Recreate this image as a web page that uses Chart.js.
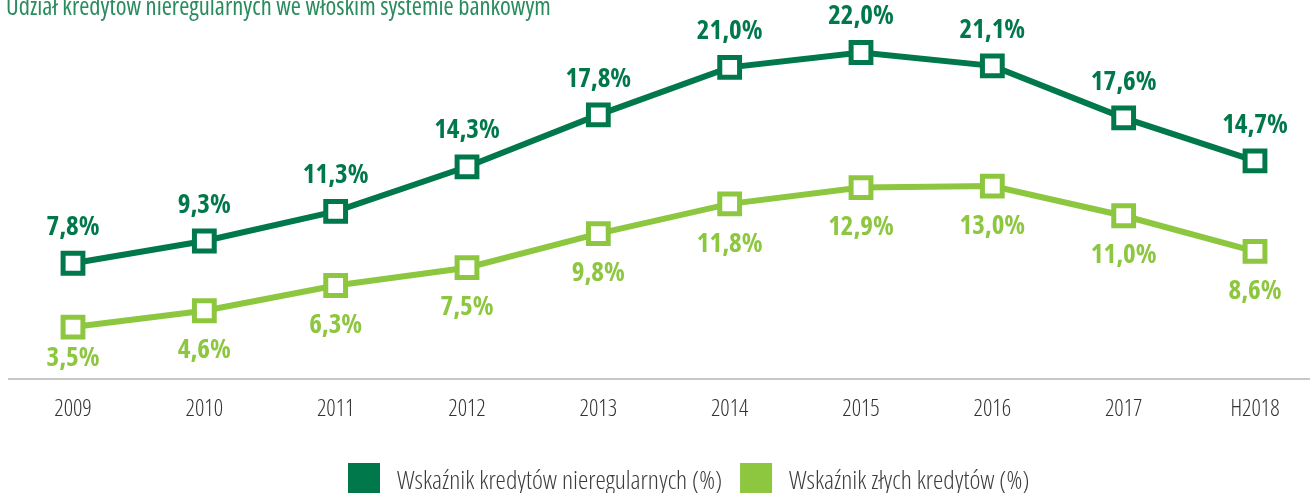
<!DOCTYPE html>
<html><head><meta charset="utf-8">
<script src="https://cdn.jsdelivr.net/npm/chart.js@4/dist/chart.umd.min.js"></script>
<style>html,body{margin:0;padding:0;background:#fff;}#wrap{width:1310px;height:493px;position:relative;}</style>
</head><body><div id="wrap"><canvas id="c" width="1310" height="493"></canvas></div>
<script>
const categories = ['2009','2010','2011','2012','2013','2014','2015','2016','2017','H2018'];
const nplRatio = [7.8, 9.3, 11.3, 14.3, 17.8, 21.0, 22.0, 21.1, 17.6, 14.7];
const badLoanRatio = [3.5, 4.6, 6.3, 7.5, 9.8, 11.8, 12.9, 13.0, 11.0, 8.6];
const seriesNames = ['Wskaźnik kredytów nieregularnych (%)', 'Wskaźnik złych kredytów (%)'];
const titleText = 'Udział kredytów nieregularnych we włoskim systemie bankowym';

const DARK = '#00784b', LIGHT = '#8dc63f';
const FAMILY = '"Open Sans", "Roboto", sans-serif';

const fmt = v => v.toFixed(1).replace('.', ',') + '%';

const labelPlugin = {
  id: 'valueLabels',
  afterDatasetsDraw(chart) {
    const ctx = chart.ctx;
    const y0 = chart.scales.y.getPixelForValue(0);
    ctx.save();
    ctx.font = 'bold condensed 27px ' + FAMILY;
    ctx.textAlign = 'center';
    ctx.textBaseline = 'middle';
    chart.data.datasets.forEach((ds, di) => {
      const meta = chart.getDatasetMeta(di);
      meta.data.forEach((pt, i) => {
        ctx.fillStyle = ds.borderColor;
        const y = di === 0 ? pt.y - 36 : Math.min(pt.y + 40, y0 - 21);
        ctx.fillText(fmt(ds.data[i]), pt.x, y);
      });
    });
    ctx.restore();
  }
};

const decorPlugin = {
  id: 'decor',
  beforeDatasetsDraw(chart) {
    const ctx = chart.ctx;
    const y0 = chart.scales.y.getPixelForValue(0);
    ctx.save();
    ctx.strokeStyle = '#c8c8c8';
    ctx.lineWidth = 2;
    ctx.beginPath();
    ctx.moveTo(8, y0);
    ctx.lineTo(chart.width, y0);
    ctx.stroke();
    ctx.restore();
  },
  afterDraw(chart) {
    const ctx = chart.ctx;
    ctx.save();
    // title (partly cut at the top, as in the reference)
    ctx.font = 'normal condensed 24.5px ' + FAMILY;
    ctx.fillStyle = '#2a8c5e';
    ctx.textAlign = 'left';
    ctx.textBaseline = 'alphabetic';
    ctx.fillText(titleText, 6, 15);
    // legend (cut at the bottom, as in the reference)
    ctx.font = '300 condensed 26px ' + FAMILY;
    let x = 348;
    const boxTop = 463, box = 32;
    chart.data.datasets.forEach(ds => {
      ctx.fillStyle = ds.borderColor;
      ctx.fillRect(x, boxTop, box, box);
      x += box + 17;
      ctx.fillStyle = '#3c3c3c';
      ctx.fillText(ds.label, x, 489);
      x += ctx.measureText(ds.label).width + 18;
    });
    ctx.restore();
  }
};

new Chart(document.getElementById('c'), {
  type: 'line',
  data: {
    labels: categories,
    datasets: [
      { label: seriesNames[0], data: nplRatio, borderColor: DARK, backgroundColor: '#ffffff',
        borderWidth: 6, pointStyle: 'rect', pointRadius: 14, pointBorderWidth: 5,
        pointBackgroundColor: '#ffffff', pointBorderColor: DARK, tension: 0 },
      { label: seriesNames[1], data: badLoanRatio, borderColor: LIGHT, backgroundColor: '#ffffff',
        borderWidth: 6, pointStyle: 'rect', pointRadius: 14, pointBorderWidth: 5,
        pointBackgroundColor: '#ffffff', pointBorderColor: LIGHT, tension: 0 }
    ]
  },
  options: {
    responsive: false,
    animation: false,
    layout: { autoPadding: false, padding: { left: 73, right: 55, top: 8, bottom: 0 } },
    scales: {
      x: {
        offset: false,
        grid: { display: false },
        border: { display: false },
        ticks: { color: '#333333', font: { family: FAMILY, size: 23, weight: '300 condensed' }, padding: 9 },
        afterFit(scale) { scale.height = 114; }
      },
      y: { display: false, min: 0, max: 25 }
    },
    plugins: {
      tooltip: { enabled: false },
      legend: { display: false }
    }
  },
  plugins: [labelPlugin, decorPlugin]
});
</script></body></html>
